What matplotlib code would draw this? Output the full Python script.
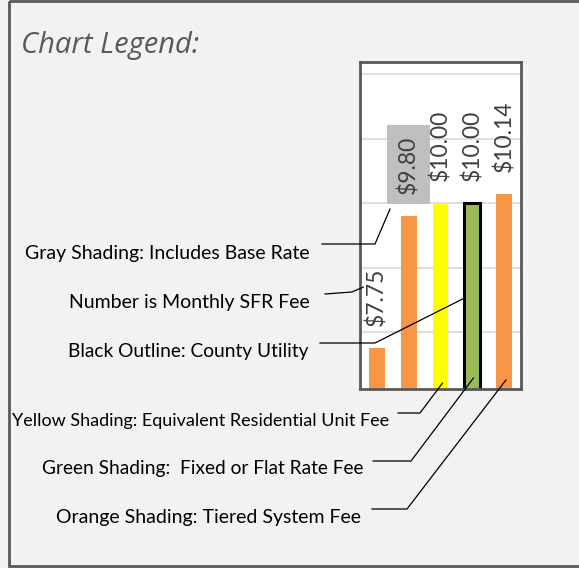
import numpy as np
import matplotlib.pyplot as plt
from matplotlib.patches import Rectangle
from matplotlib.lines import Line2D

W, H = 579, 568

# bar data
fees = [7.75, 9.80, 10.00, 10.00, 10.14]
fee_labels = ["$7.75", "$9.80", "$10.00", "$10.00", "$10.14"]
bar_colors = ["#f79646", "#f79646", "#ffff00", "#9bbb59", "#f79646"]
bar_edges = [None, None, None, "black", None]
label_box = [False, True, False, False, False]
grid_vals = [8, 9, 10, 11, 12]

# legend notes: text, text right end / baseline (px), leader start, knee, target (data)
notes = [
    "Gray Shading: Includes Base Rate",
    "Number is Monthly SFR Fee",
    "Black Outline: County Utility",
    "Yellow Shading: Equivalent Residential Unit Fee",
    "Green Shading:  Fixed or Flat Rate Fee",
    "Orange Shading: Tiered System Fee",
]
note_size = [14, 14, 13.8, 13, 13.8, 14]
note_right = [310, 310, 308, 389, 363, 361]
note_base = [259, 308, 357, 426, 474, 523]
lead_start = [(322, 244), (325, 294), (320, 343), (398, 413), (373, 461), (372, 509)]
lead_knee = [(375, 244), (352, 292), (375, 343), (420, 413), (411, 461), (407, 509)]
lead_target = [(0.42, 9.91), (-0.42, 8.70), (2.75, 8.53), (2.06, 7.21), (3.03, 7.29), (4.05, 7.26)]

plt.rcParams["font.family"] = ["Lato", "DejaVu Sans"]

fig = plt.figure(figsize=(W / 100, H / 100), dpi=100, facecolor="#f2f2f2")

# small chart
ax = fig.add_axes([360 / W, 1 - 389 / H, 161 / W, 327 / H])
ax.set_facecolor("white")
x = np.arange(len(fees))
for i in range(len(fees)):
    ax.bar(x[i], fees[i], width=0.5, color=bar_colors[i],
           edgecolor=bar_edges[i] if bar_edges[i] else "none",
           linewidth=2.2 if bar_edges[i] else 0, zorder=2)
    kw = {}
    if label_box[i]:
        kw["bbox"] = dict(boxstyle="square,pad=0.45", fc="#bfbfbf", ec="none")
    ax.annotate(fee_labels[i], (x[i], fees[i]), xytext=(0, 16),
                textcoords="offset points", rotation=90, ha="center",
                va="bottom", fontsize=16.5, color="#404040", zorder=3, **kw)
for g in grid_vals:
    ax.axhline(g, color="#d9d9d9", lw=1.2, zorder=1)
ax.set_xlim(-0.52, 4.52)
ax.set_ylim(7.12, 12.19)
ax.set_xticks([])
ax.set_yticks([])
for s in ax.spines.values():
    s.set_color("#595959")
    s.set_linewidth(2)

# overlay in pixel coordinates
ov = fig.add_axes([0, 0, 1, 1], zorder=5)
ov.set_xlim(0, W)
ov.set_ylim(H, 0)
ov.axis("off")
ov.patch.set_alpha(0)

ov.add_patch(Rectangle((9, 1), W, 565, fill=False, ec="#595959", lw=2))
ov.text(21, 53, "Chart Legend:", fontsize=21, style="italic", color="#595959",
        family=["Open Sans", "DejaVu Sans"], ha="left", va="baseline")

fig.canvas.draw()
to_ov = ov.transData.inverted()
for i, t in enumerate(notes):
    ov.text(note_right[i], note_base[i], t, fontsize=note_size[i], color="black",
            ha="right", va="baseline")
    tx, ty = to_ov.transform(ax.transData.transform(lead_target[i]))
    xs = [lead_start[i][0], lead_knee[i][0], tx]
    ys = [lead_start[i][1], lead_knee[i][1], ty]
    ov.add_line(Line2D(xs, ys, color="black", lw=0.9))

fig.savefig("out.png", dpi=100, facecolor=fig.get_facecolor())
